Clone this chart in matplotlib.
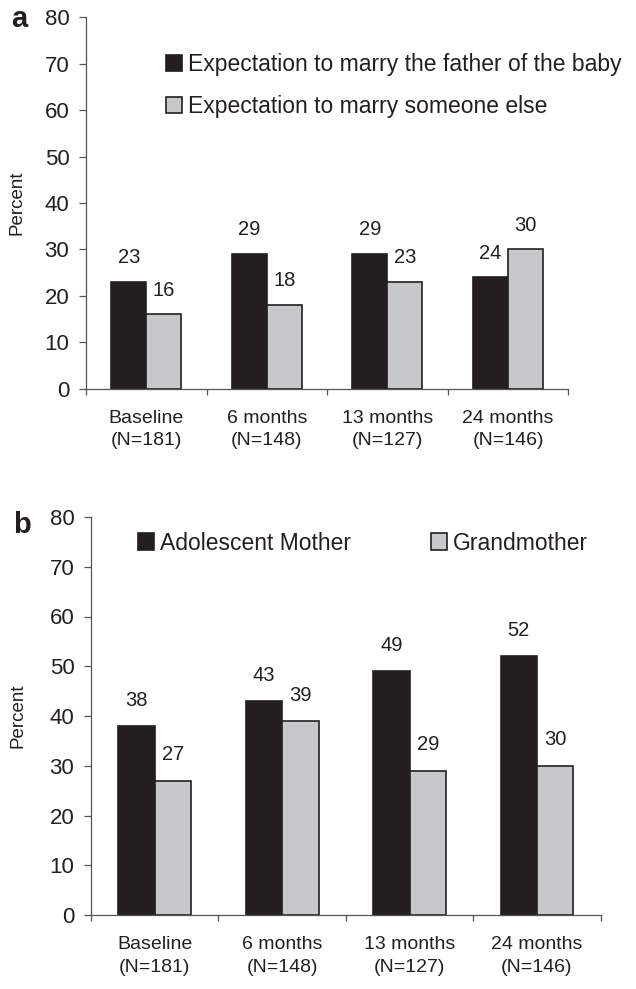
import matplotlib
matplotlib.use("Agg")
import matplotlib.pyplot as plt
from matplotlib.patches import Patch
import numpy as np

plt.rcParams['font.family'] = ['Liberation Sans', 'DejaVu Sans']

# данные
waves = ["Baseline\n(N=181)", "6 months\n(N=148)", "13 months\n(N=127)", "24 months\n(N=146)"]
marry_fob = [23, 29, 29, 24]
marry_other = [16, 18, 23, 30]
labels_a = ["Expectation to marry the father of the baby", "Expectation to marry someone else"]

mother = [38, 43, 49, 52]
grandmother = [27, 39, 29, 30]
labels_b = ["Adolescent Mother", "Grandmother"]

DARK = '#231f20'
GREY = '#c7c8ca'
W, H = 636, 989

fig = plt.figure(figsize=(W / 100, H / 100), dpi=100)


def px_axes(left, top, right, bottom):
    return fig.add_axes([left / W, 1 - bottom / H, (right - left) / W, (bottom - top) / H])


def draw_panel(ax, s1, s2, width):
    x = np.arange(len(waves))
    ax.bar(x - width / 2, s1, width, color=DARK, edgecolor=DARK, linewidth=1.2, zorder=2)
    ax.bar(x + width / 2, s2, width, color=GREY, edgecolor=DARK, linewidth=1.2, zorder=2)
    for i in range(len(x)):
        ax.text(x[i] - width / 2, s1[i] + 5.2, str(s1[i]), ha='center', va='center',
                fontsize=14.5, color=DARK)
        ax.text(x[i] + width / 2, s2[i] + 5.2, str(s2[i]), ha='center', va='center',
                fontsize=14.5, color=DARK)
    ax.set_xlim(-0.5, len(x) - 0.5)
    ax.set_ylim(0, 80)
    ax.set_yticks(range(0, 81, 10))
    ax.set_xticks(np.arange(-0.5, len(x), 1.0))
    ax.set_xticklabels([])
    ax.set_xticks(x, minor=True)
    ax.set_xticklabels(waves, minor=True, fontsize=14, color=DARK, linespacing=1.45)
    ax.tick_params(axis='x', which='minor', length=0, pad=15)
    ax.tick_params(axis='x', which='major', length=4.5, width=0.9, color='#555555', direction='out')
    ax.tick_params(axis='y', length=5, width=0.9, color='#555555', labelsize=16,
                   labelcolor=DARK, pad=7)
    for s in ['top', 'right']:
        ax.spines[s].set_visible(False)
    for s in ['left', 'bottom']:
        ax.spines[s].set_color('#555555')
        ax.spines[s].set_linewidth(0.9)


# панель a
ax1 = px_axes(86, 17.3, 568.3, 388.7)
draw_panel(ax1, marry_fob, marry_other, 0.29)
h1 = [Patch(facecolor=DARK, edgecolor=DARK, linewidth=1.2),
      Patch(facecolor=GREY, edgecolor=DARK, linewidth=1.2)]
ax1.legend(h1, labels_a, loc='center left', bbox_to_anchor=(166 / W, 1 - 85.3 / H),
           bbox_transform=fig.transFigure, frameon=False, fontsize=16.5,
           handlelength=0.7, handleheight=0.7, handletextpad=0.25,
           labelspacing=0.85, borderpad=0, borderaxespad=0, labelcolor=DARK)
fig.text(11 / W, 1 - 27.3 / H, 'a', fontsize=21, fontweight='bold', ha='left',
         va='baseline', color=DARK)
fig.text(17 / W, 1 - 203 / H, 'Percent', rotation=90, fontsize=13.5, ha='center',
         va='center', color=DARK)

# панель b
ax2 = px_axes(91, 517, 600.7, 915)
draw_panel(ax2, mother, grandmother, 0.286)
h2 = [Patch(facecolor=DARK, edgecolor=DARK, linewidth=1.2),
      Patch(facecolor=GREY, edgecolor=DARK, linewidth=1.2)]
ax2.legend(h2, labels_b, loc='center left', bbox_to_anchor=(138 / W, 1 - 543 / H),
           bbox_transform=fig.transFigure, frameon=False, fontsize=16.5, ncol=2,
           handlelength=0.7, handleheight=0.7, handletextpad=0.25, columnspacing=3.5,
           borderpad=0, borderaxespad=0, labelcolor=DARK)
fig.text(13 / W, 1 - 533.3 / H, 'b', fontsize=21, fontweight='bold', ha='left',
         va='baseline', color=DARK)
fig.text(18.5 / W, 1 - 716 / H, 'Percent', rotation=90, fontsize=13.5, ha='center',
         va='center', color=DARK)

fig.savefig('out.png', dpi=100)
